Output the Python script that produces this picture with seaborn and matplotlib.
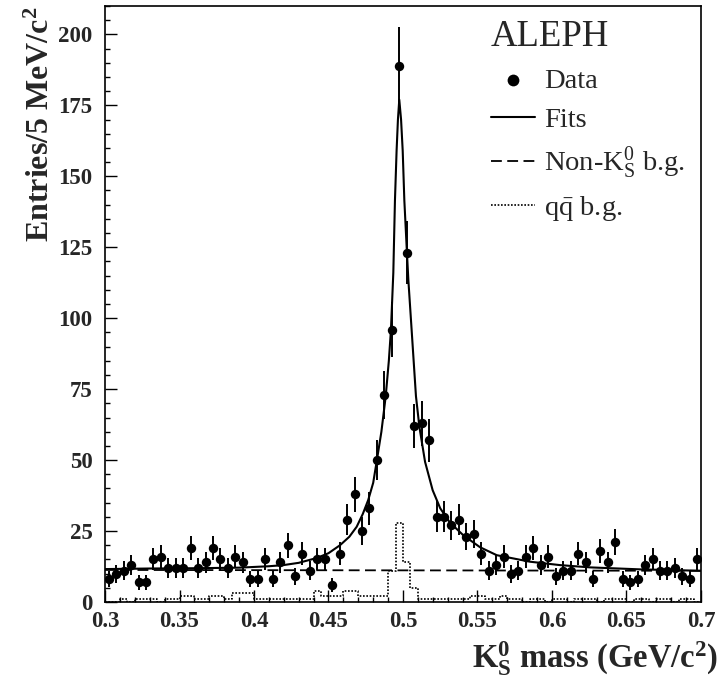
import numpy as np
import pandas as pd
import matplotlib
matplotlib.use("Agg")
import matplotlib.pyplot as plt
from matplotlib.ticker import MultipleLocator, FormatStrFormatter
import seaborn as sns

# ---- data: K0S candidate mass spectrum, 5 MeV bins from 0.300 to 0.700 GeV/c^2 ----
bin_edges = [round(0.300 + 0.005 * i, 4) for i in range(81)]
bin_centers = [round(0.5 * (a + b), 5) for a, b in zip(bin_edges[:-1], bin_edges[1:])]

data_counts = [
    8, 10, 11, 13, 7, 7, 15, 16, 12, 12,
    12, 19, 12, 14, 19, 15, 12, 16, 14, 8,
    8, 15, 8, 14, 20, 9, 17, 11, 15, 15,
    6, 17, 29, 38, 25, 33, 50, 73, 96, 189,
    123, 62, 63, 57, 30, 30, 27, 29, 23, 24,
    17, 11, 13, 16, 10, 11, 16, 19, 13, 16,
    9, 11, 11, 17, 14, 8, 18, 14, 21, 8,
    7, 8, 13, 15, 11, 11, 12, 9, 8, 15,
]

# q-qbar background histogram (same binning)
qq_counts = [
    0, 0, 1, 0, 1, 1, 1, 0, 1, 1,
    2, 2, 1, 1, 2, 2, 1, 3, 3, 3,
    1, 1, 1, 1, 1, 1, 1, 1, 4, 2,
    2, 2, 4, 4, 2, 2, 2, 2, 11, 28,
    14, 5, 1, 1, 1, 1, 1, 1, 1, 2,
    2, 1, 1, 2, 1, 1, 0, 1, 1, 0,
    1, 1, 0, 1, 1, 1, 0, 1, 1, 1,
    0, 1, 1, 0, 1, 1, 0, 1, 1, 0,
]

# non-K0S background level
nonk_mass = [0.300, 0.700]
nonk_level = [11.3, 11.0]

# total fit curve
fit_mass = [
    0.300, 0.330, 0.360, 0.390, 0.410, 0.4197, 0.430, 0.4421, 0.450, 0.4577,
    0.4640, 0.4689, 0.4730, 0.4767, 0.4800, 0.4823, 0.4855, 0.4884, 0.4905, 0.4919,
    0.4935, 0.4946, 0.4957, 0.4966, 0.4975, 0.4987, 0.4998, 0.5009, 0.5025, 0.5036,
    0.5058, 0.5087, 0.5110, 0.5148, 0.5199, 0.5250, 0.5315, 0.5405, 0.5517, 0.5629,
    0.5852, 0.6054, 0.6255, 0.6590, 0.7000,
]
fit_counts = [
    11.6, 11.8, 11.9, 12.1, 12.6, 13.0, 13.8, 15.5, 17.2, 20.0,
    23.0, 26.5, 31.0, 36.0, 42.0, 49.4, 60.0, 72.5, 85.0, 95.8,
    116.0, 141.5, 159.0, 170.0, 177.0, 170.0, 159.0, 141.5, 124.6, 113.4,
    95.8, 72.5, 61.7, 49.4, 39.4, 33.0, 28.0, 23.5, 19.3, 16.5,
    14.2, 13.0, 12.2, 11.5, 11.0,
]

# ---- style ----
sns.set_theme(style="ticks")
plt.rcParams["font.family"] = ["Liberation Serif", "DejaVu Serif"]
plt.rcParams["mathtext.fontset"] = "custom"
plt.rcParams["mathtext.rm"] = "Liberation Serif"
plt.rcParams["mathtext.it"] = "Liberation Serif:italic"
plt.rcParams["mathtext.bf"] = "Liberation Serif:bold"

fig = plt.figure(figsize=(7.22, 6.79), dpi=100)
ax = fig.add_axes([0.14543, 0.11340, 0.82548, 0.87776])

# q-qbar background (dotted histogram)
qq_df = pd.DataFrame({"mass": bin_centers, "entries": qq_counts})
n_lines = len(ax.lines)
sns.histplot(data=qq_df, x="mass", weights="entries", bins=bin_edges, element="step",
             fill=False, color="black", linewidth=1.2, linestyle=(0, (1, 1)), ax=ax)
qq_line = ax.lines[-1] if len(ax.lines) > n_lines else None

# non-K0S background (dashed)
sns.lineplot(x=nonk_mass, y=nonk_level, color="black", linewidth=1.3, ax=ax)
nonk_line = ax.lines[-1]
nonk_line.set_linestyle((0, (6, 3)))

# fit
sns.lineplot(x=fit_mass, y=fit_counts, color="black", linewidth=1.5, ax=ax)
fit_line = ax.lines[-1]

# data with Poisson errors
err = np.sqrt(data_counts)
ax.errorbar(bin_centers, data_counts, yerr=err, fmt="none",
            ecolor="black", elinewidth=1.4, capsize=0, zorder=3)
sns.scatterplot(x=bin_centers, y=data_counts, color="black", s=46,
                edgecolor="black", linewidth=0, zorder=4, ax=ax)
data_pts = ax.collections[-1]

# ---- axes ----
ax.set_xlim(0.3, 0.7)
ax.set_ylim(0, 210)
ax.xaxis.set_major_locator(MultipleLocator(0.05))
ax.xaxis.set_minor_locator(MultipleLocator(0.01))
ax.yaxis.set_major_locator(MultipleLocator(25))
ax.yaxis.set_minor_locator(MultipleLocator(5))
ax.xaxis.set_major_formatter(FormatStrFormatter("%g"))
ax.tick_params(axis="both", which="both", direction="in", top=False, right=False,
               width=1.0, color="black")
ax.tick_params(axis="both", which="major", length=8.5, labelsize=16.5)
ax.tick_params(axis="both", which="minor", length=3.8)
ax.tick_params(axis="x", which="major", pad=6.5)
ax.tick_params(axis="y", which="major", pad=9)
for lab in ax.get_xticklabels() + ax.get_yticklabels():
    lab.set_fontweight("bold")
for sp in ax.spines.values():
    sp.set_visible(True)
    sp.set_linewidth(1.2)
    sp.set_color("black")

ax.set_ylabel(r"Entries/5 MeV/c$^{\mathbf{2}}$", fontsize=23, fontweight="bold",
              loc="top")
ax.yaxis.set_label_coords(-0.082, 1.0)
ax.set_xlabel(r"$\mathbf{K^0_S}$ mass (GeV/c$^{\mathbf{2}}$)", fontsize=23.5,
              fontweight="bold", loc="right")
ax.xaxis.set_label_coords(1.028, -0.062)

# ---- legend ----
handles = [data_pts, fit_line, nonk_line]
labels = ["Data", "Fits", r"Non-K$^0_{\mathrm{S}}$ b.g."]
if qq_line is not None:
    handles.append(qq_line)
    labels.append(r"q$\bar{\mathrm{q}}$ b.g.")
leg = ax.legend(handles, labels, title="ALEPH", loc="upper left",
                bbox_to_anchor=(491 / 722, 1 - 20 / 679), bbox_transform=fig.transFigure,
                frameon=False, fontsize=20.5, title_fontsize=26.5, alignment="left",
                handlelength=1.55, handletextpad=0.3, labelspacing=0.46,
                borderpad=0, borderaxespad=0, markerscale=1.25)

fig.savefig("out.png", dpi=100)
